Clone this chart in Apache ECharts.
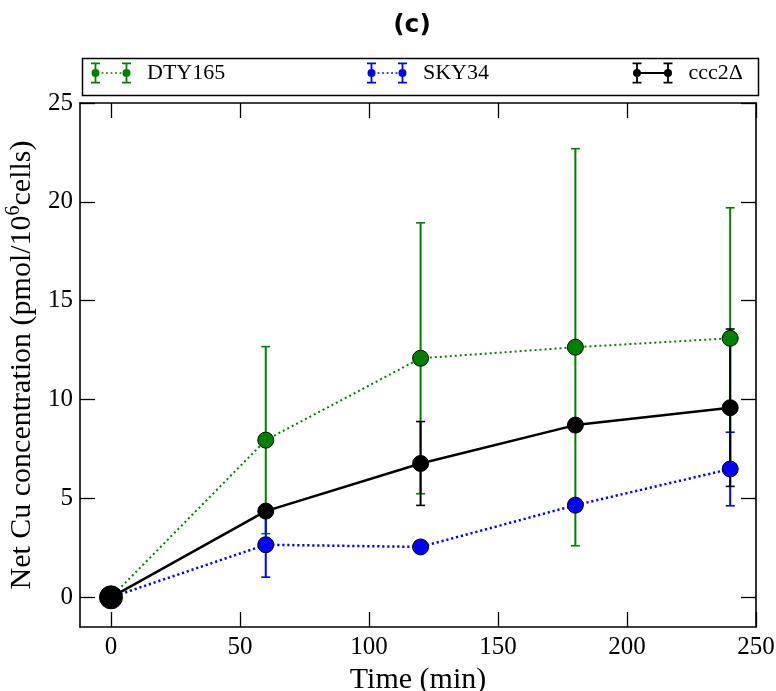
<!DOCTYPE html>
<html>
<head>
<meta charset="utf-8">
<script src="https://cdn.jsdelivr.net/npm/echarts@6/dist/echarts.min.js"></script>
<style>
html,body{margin:0;padding:0;background:#fff;}
#chart{width:776px;height:691px;}
</style>
</head>
<body>
<div id="chart"></div>
<script>
// ---- data ----
const times = [0, 60, 120, 180, 240];
const dty165 = [0, 7.95, 12.09, 12.65, 13.1];
const dty165Err = [0, 4.73, 6.85, 10.04, 6.6];
const sky34 = [0, 2.66, 2.55, 4.66, 6.49];
const sky34Err = [0, 1.64, 0.2, 0.3, 1.86];
const ccc2 = [0, 4.36, 6.77, 8.71, 9.59];
const ccc2Err = [0, 0.3, 2.12, 0.3, 3.98];
const xTicks = [0, 50, 100, 150, 200, 250];
const yTicks = [0, 5, 10, 15, 20, 25];
const seriesNames = ['DTY165', 'SKY34', 'ccc2\u0394'];

const SERIF = '"Liberation Serif", "DejaVu Serif", serif';

function pts(vals) { return times.map((t, i) => [t, vals[i]]); }
function errPts(vals, errs) { return times.map((t, i) => [t, vals[i], errs[i]]); }

function errorSeries(name, vals, errs, color, z) {
  return {
    type: 'custom',
    name: name,
    z: z,
    encode: { x: 0, y: 1 },
    data: errPts(vals, errs),
    renderItem: function (params, api) {
      const x = api.value(0), y = api.value(1), e = api.value(2);
      const top = api.coord([x, y + e]);
      const bot = api.coord([x, y - e]);
      const cw = 4.5;
      return {
        type: 'group',
        children: [
          { type: 'line', shape: { x1: top[0], y1: top[1], x2: bot[0], y2: bot[1] }, style: { stroke: color, lineWidth: 2 } },
          { type: 'line', shape: { x1: top[0] - cw, y1: top[1], x2: top[0] + cw, y2: top[1] }, style: { stroke: color, lineWidth: 1.6 } },
          { type: 'line', shape: { x1: bot[0] - cw, y1: bot[1], x2: bot[0] + cw, y2: bot[1] }, style: { stroke: color, lineWidth: 1.6 } }
        ]
      };
    }
  };
}

// legend icons (error-bar glyphs)
function beam(cx) {
  const l = cx - 4.5, r = cx + 4.5, vl = cx - 0.9, vr = cx + 0.9;
  return 'M' + l + ' 0 L' + r + ' 0 L' + r + ' 1.8 L' + l + ' 1.8 Z ' +
    'M' + vl + ' 0 L' + vr + ' 0 L' + vr + ' 21 L' + vl + ' 21 Z ' +
    'M' + l + ' 19.2 L' + r + ' 19.2 L' + r + ' 21 L' + l + ' 21 Z ' +
    'M' + (cx - 4) + ' 10.5 A4 4 0 1 1 ' + (cx + 4) + ' 10.5 A4 4 0 1 1 ' + (cx - 4) + ' 10.5 Z ';
}
function dots() {
  let s = '';
  [11.5, 16, 20.5, 25, 29.5].forEach(c => {
    s += 'M' + (c - 0.9) + ' 9.7 L' + (c + 0.9) + ' 9.7 L' + (c + 0.9) + ' 11.3 L' + (c - 0.9) + ' 11.3 Z ';
  });
  return s;
}
const iconDotted = 'path://' + beam(4.5) + beam(35.5) + dots();
const iconSolid = 'path://' + beam(4.5) + beam(35.5) + 'M4.5 9.4 L35.5 9.4 L35.5 11.6 L4.5 11.6 Z';

function legendAt(left, name, icon, color) {
  return {
    left: left, top: 62, padding: 0,
    itemWidth: 40, itemHeight: 21,
    data: [{ name: name, icon: icon, itemStyle: { color: color, borderWidth: 0 } }],
    textStyle: { fontFamily: SERIF, fontSize: 22, color: '#000', padding: [0, 0, 0, 11] },
    selectedMode: false
  };
}

const chart = echarts.init(document.getElementById('chart'), null, { renderer: 'canvas' });

const axisLine = { show: true, onZero: false, lineStyle: { color: '#000', width: 1.6 } };
const tickStyle = { inside: true, length: 15, lineStyle: { color: '#000', width: 1.3 } };

chart.setOption({
  animation: false,
  backgroundColor: '#fff',
  title: {
    text: '(c)',
    left: 407, top: 8, textAlign: 'center',
    textStyle: { fontFamily: '"DejaVu Sans", sans-serif', fontWeight: 'bold', fontSize: 25, color: '#000' }
  },
  legend: [
    legendAt(91, seriesNames[0], iconDotted, '#008000'),
    legendAt(367, seriesNames[1], iconDotted, '#0000ff'),
    legendAt(632.5, seriesNames[2], iconSolid, '#000')
  ],
  graphic: [{
    type: 'rect', left: 80, top: 56, z: 100,
    shape: { x: 0, y: 0, width: 676, height: 37 },
    style: { fill: 'none', stroke: '#000', lineWidth: 1.5 }
  }],
  grid: { left: 80, right: 20, top: 103, bottom: 64, containLabel: false, outerBoundsMode: 'none' },
  xAxis: [{
    type: 'value', min: -12, max: 250, position: 'bottom',
    axisLine: axisLine,
    axisTick: Object.assign({ customValues: xTicks }, tickStyle),
    axisLabel: { customValues: xTicks, fontFamily: SERIF, fontSize: 25, color: '#000', margin: 8 },
    splitLine: { show: false },
    name: 'Time (min)', nameLocation: 'middle', nameGap: 30,
    nameTextStyle: { fontFamily: SERIF, fontSize: 30, color: '#000' }
  }, {
    type: 'value', min: -12, max: 250, position: 'top',
    axisLine: axisLine,
    axisTick: Object.assign({ customValues: xTicks }, tickStyle),
    axisLabel: { show: false },
    splitLine: { show: false }
  }],
  yAxis: [{
    type: 'value', min: -1.5, max: 25, position: 'left',
    axisLine: axisLine,
    axisTick: Object.assign({ customValues: yTicks }, tickStyle),
    axisLabel: { customValues: yTicks, fontFamily: SERIF, fontSize: 25, color: '#000', margin: 7 },
    splitLine: { show: false },
    name: '{a|Net Cu concentration (pmol/10}{s|6}{a|cells)}',
    nameLocation: 'middle', nameGap: 34, nameRotate: 90,
    nameTextStyle: {
      rich: {
        a: { fontFamily: SERIF, fontSize: 30, color: '#000' },
        s: { fontFamily: SERIF, fontSize: 20, color: '#000', padding: [0, 0, 16, 0] }
      }
    }
  }, {
    type: 'value', min: -1.5, max: 25, position: 'right',
    axisLine: axisLine,
    axisTick: Object.assign({ customValues: yTicks }, tickStyle),
    axisLabel: { show: false },
    splitLine: { show: false }
  }],
  series: [
    errorSeries(seriesNames[0], dty165, dty165Err, '#008000', 2),
    errorSeries(seriesNames[1], sky34, sky34Err, '#0000ff', 3),
    errorSeries(seriesNames[2], ccc2, ccc2Err, '#000', 4),
    {
      type: 'line', name: seriesNames[0], data: pts(dty165), z: 5,
      symbol: 'circle', symbolSize: 16,
      itemStyle: { color: '#008000', borderColor: '#000', borderWidth: 1 },
      lineStyle: { color: '#008000', width: 2, type: [2, 3] }
    },
    {
      type: 'line', name: seriesNames[1], data: pts(sky34), z: 6,
      symbol: 'circle', symbolSize: 16,
      itemStyle: { color: '#0000ff', borderColor: '#000', borderWidth: 1 },
      lineStyle: { color: '#0000ff', width: 2.5, type: [2.2, 2.8] }
    },
    {
      type: 'line', name: seriesNames[2], data: pts(ccc2), z: 7,
      symbol: 'circle',
      symbolSize: function (v, p) { return p.dataIndex === 0 ? 23 : 16; },
      itemStyle: { color: '#000', borderColor: '#000', borderWidth: 1 },
      lineStyle: { color: '#000', width: 2.5, type: 'solid' }
    }
  ]
});
</script>
</body>
</html>
